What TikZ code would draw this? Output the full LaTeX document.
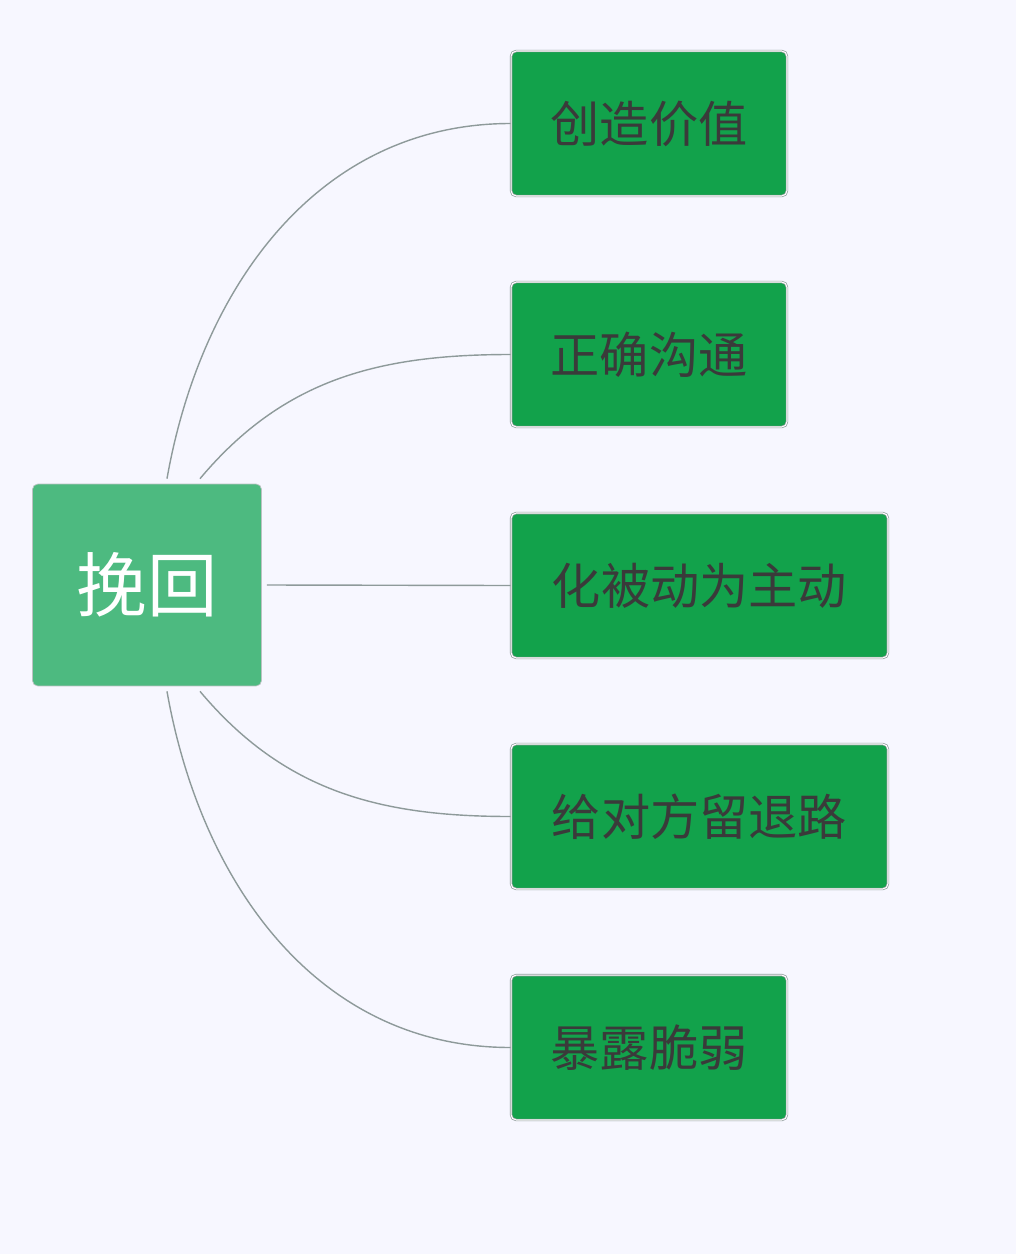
\documentclass[tikz,border=0pt]{standalone}
\usepackage{fontspec}
\newfontfamily\cjk{Noto Sans CJK SC}
\definecolor{rootgreen}{HTML}{4DBA80}
\definecolor{leafgreen}{HTML}{12A24B}
\definecolor{linegray}{HTML}{8E9A9A}
\definecolor{textgray}{HTML}{3A3A3A}
\tikzset{
  leaf/.style={draw=linegray, double=white, double distance=0.6pt, fill=leafgreen, rounded corners=3pt,
    minimum height=2.9cm, inner sep=0pt, font=\cjk\fontsize{28}{32}\selectfont, text=textgray},
  link/.style={draw=linegray, line width=0.8pt}
}
\begin{document}
\begin{tikzpicture}[x=0.02cm,y=-0.02cm]
\fill[white!97!blue] (0,0) rectangle (1016,1254);
\useasboundingbox (0,0) rectangle (1016,1254);
\node[draw=linegray!60, fill=rootgreen, rounded corners=3pt, minimum width=4.58cm, minimum height=4.04cm,
  font=\cjk\fontsize{40}{44}\selectfont, text=white] (root) at (147,585) {挽回};
\node[leaf, minimum width=5.52cm] (value) at (649,123.5) {创造价值};
\node[leaf, minimum width=5.52cm] (talk) at (649,354.5) {正确沟通};
\node[leaf, minimum width=7.54cm] (active) at (699.5,585.5) {化被动为主动};
\node[leaf, minimum width=7.54cm] (retreat) at (699.5,816.5) {给对方留退路};
\node[leaf, minimum width=5.52cm] (weak) at (649,1047.5) {暴露脆弱};
% connectors
\draw[link] ([xshift=0.4cm,yshift=0.1cm]root.north) to[out=80,in=180] (value.west);
\draw[link] ([xshift=1.06cm,yshift=0.1cm]root.north) to[out=50,in=180] (talk.west);
\draw[link] ([xshift=0.1cm]root.east) -- (active.west);
\draw[link] ([xshift=1.06cm,yshift=-0.1cm]root.south) to[out=-50,in=180] (retreat.west);
\draw[link] ([xshift=0.4cm,yshift=-0.1cm]root.south) to[out=-80,in=180] (weak.west);
\end{tikzpicture}
\end{document}
